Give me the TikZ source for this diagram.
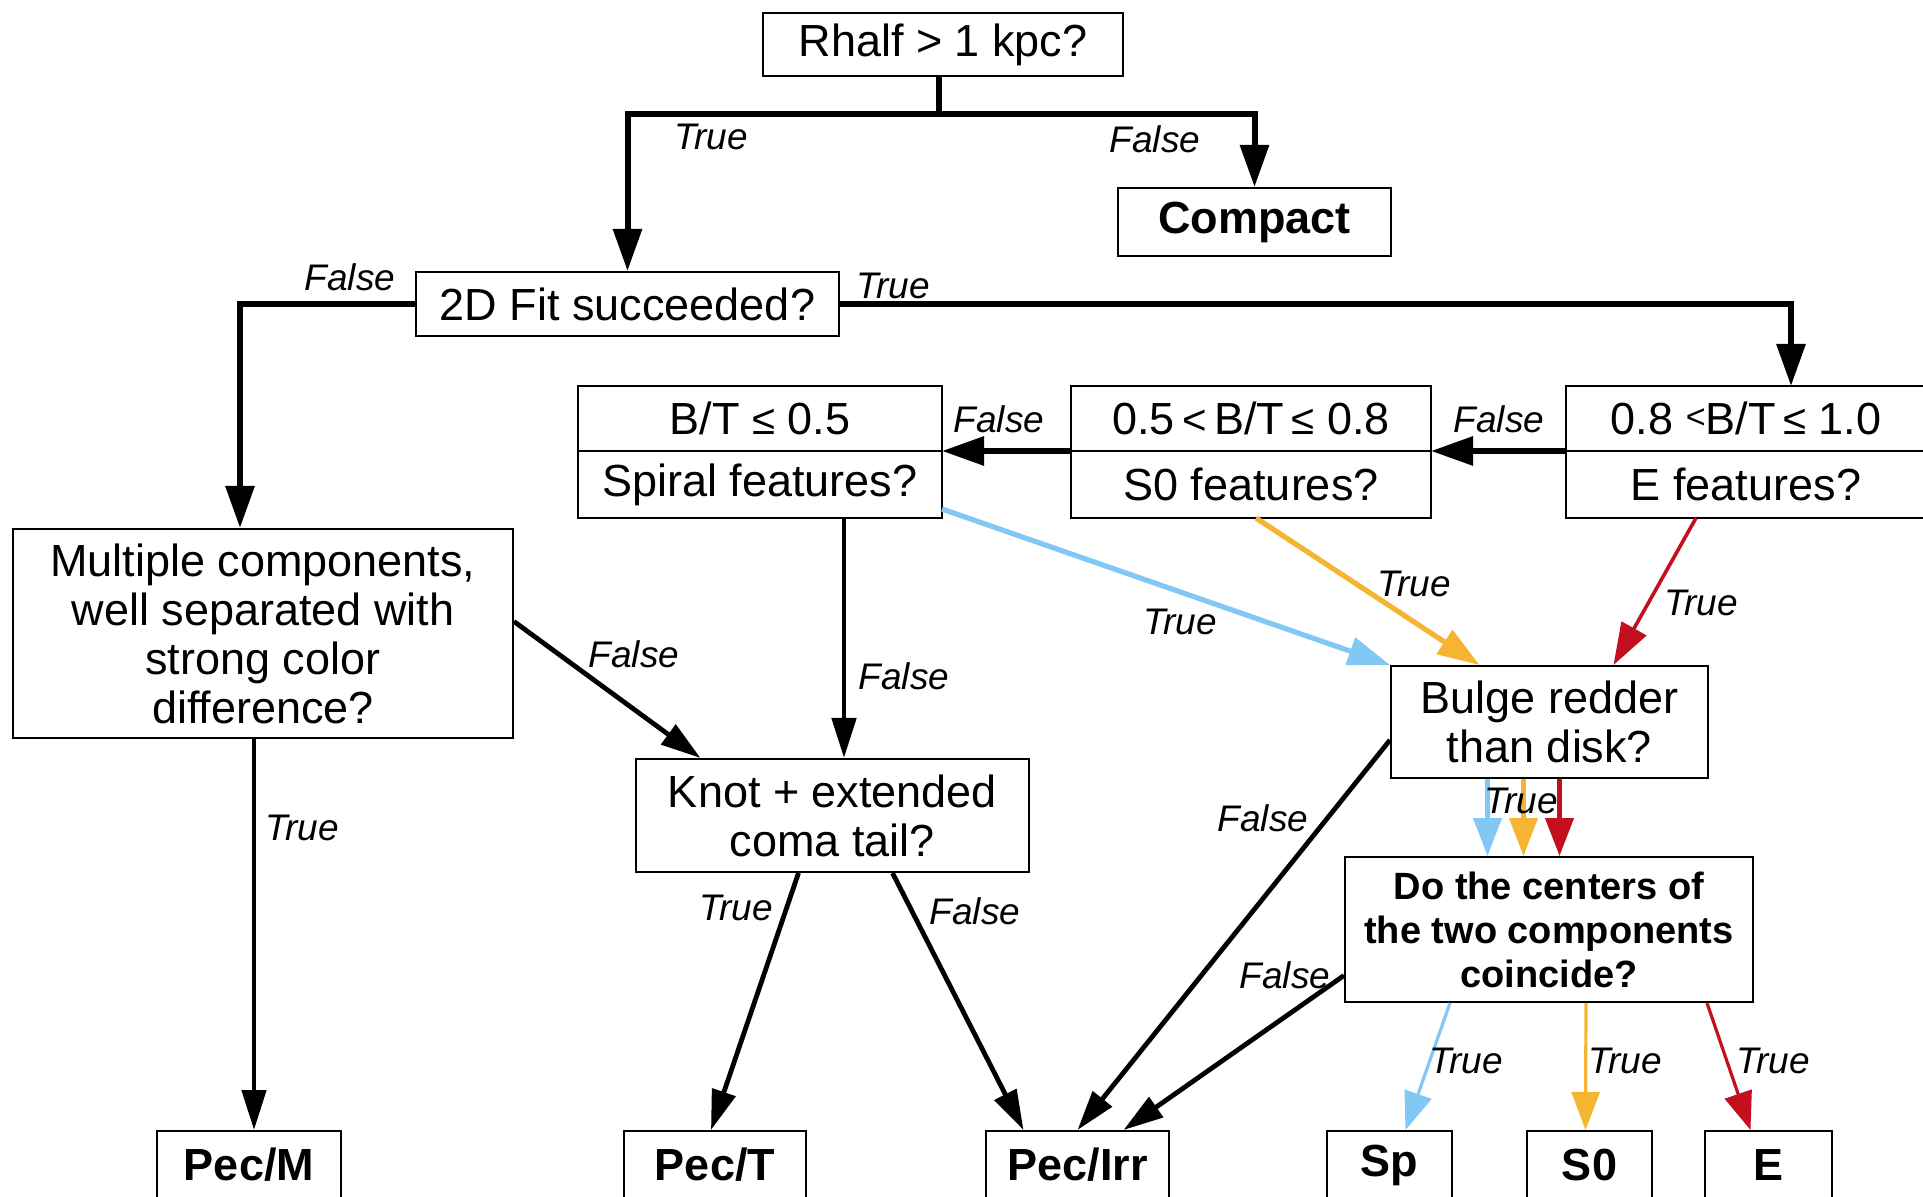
\documentclass[tikz,border=0pt]{standalone}
\usepackage{fontspec}
\setmainfont{Liberation Sans}
\usetikzlibrary{positioning,arrows.meta}

\definecolor{spblue}{RGB}{130,200,245}
\definecolor{szorange}{RGB}{245,180,50}
\definecolor{elred}{RGB}{195,15,30}

\tikzset{
  qbox/.style={draw, line width=1pt, fill=white, inner sep=0pt, align=center,
    font=\fontsize{22.5}{24.5}\selectfont},
  leaf/.style={qbox, font=\fontsize{22.5}{24.5}\selectfont\bfseries},
  lab/.style={inner sep=0pt, font=\fontsize{18.5}{20}\selectfont\itshape},
  flow/.style={line width=2.4pt, -{Triangle[length=20pt,width=12pt]}},
  bigflow/.style={line width=3pt, -{Triangle[length=21pt,width=14pt]}},
  cflow/.style={line width=2.6pt, -{Triangle[length=21pt,width=14pt]}},
  thinflow/.style={line width=1.6pt, -{Triangle[length=19pt,width=14pt]}},
}
\newcommand{\smrel}[1]{{\fontsize{21}{21}\selectfont #1}}

\begin{document}
\begin{tikzpicture}[x=0.5pt,y=-0.5pt]
\useasboundingbox (0,0) rectangle (1923,1197);

% questions
\node[qbox, minimum width=180pt, minimum height=31.5pt] (rhalf) at (943,44.5) {Rhalf > 1 kpc?};
\node[leaf, minimum width=136.5pt, minimum height=34pt] (compact) at (1254.5,222) {Compact};
\node[qbox, minimum width=211.5pt, minimum height=32pt] (fit) at (627.5,304) {2D Fit succeeded?};

% B/T boxes
\node[qbox, minimum width=182pt, minimum height=32.5pt, outer sep=0pt] (bt05) at (760,418.5) {B/T \smrel{≤} 0.5};
\node[qbox, minimum width=182pt, minimum height=33.5pt, outer sep=0pt, below=0pt of bt05] (spiral) {Spiral features?};
\node[qbox, minimum width=180pt, minimum height=32.5pt, outer sep=0pt] (bt08) at (1251,418.5) {0.5\,\smrel{<}\,B/T\,\smrel{≤} 0.8};
\node[qbox, minimum width=180pt, minimum height=33.5pt, outer sep=0pt, below=0pt of bt08] (s0feat) {S0 features?};
\node[qbox, minimum width=180pt, minimum height=32.5pt, outer sep=0pt] (bt10) at (1746,418.5) {0.8 \raisebox{3pt}{{\fontsize{17}{17}\selectfont<}}B/T\,\smrel{≤} 1.0};
\node[qbox, minimum width=180pt, minimum height=33.5pt, outer sep=0pt, below=0pt of bt10] (efeat) {E features?};

\node[qbox, minimum width=250pt, minimum height=104.5pt] (multi) at (263,633.5) {Multiple components,\\ well separated with\\ strong color\\ difference?};
\node[qbox, minimum width=196.5pt, minimum height=56.5pt] (knot) at (832.5,815.5) {Knot + extended\\ coma tail?};
\node[qbox, minimum width=158.5pt, minimum height=56pt] (bulge) at (1549.5,722) {Bulge redder\\ than disk?};
\node[qbox, minimum width=204pt, minimum height=72.5pt, font=\fontsize{19}{22}\selectfont\bfseries] (centers) at (1549,929.5) {Do the centers of\\ the two components\\ coincide?};

% classes
\node[leaf, minimum width=92pt, minimum height=34pt] (pecm) at (249,1165) {Pec/M};
\node[leaf, minimum width=91pt, minimum height=34pt] (pect) at (715,1165) {Pec/T};
\node[leaf, minimum width=91.5pt, minimum height=34pt] (pecirr) at (1077.5,1165) {Pec/Irr};
\node[leaf, minimum width=62.5pt, minimum height=34pt] (sp) at (1389.5,1165) {Sp};
\node[leaf, minimum width=62.5pt, minimum height=34pt] (szero) at (1589.5,1165) {S0};
\node[leaf, minimum width=63.5pt, minimum height=34pt] (ell) at (1768.5,1165) {E};

% black connectors
\coordinate (topsplit) at (939,114);
\draw[bigflow] (rhalf.south -| topsplit) -- (topsplit) -| (fit.north);
\draw[bigflow] (topsplit) -| (compact.north);
\draw[bigflow] (fit.west) -| ([xshift=-11.5pt]multi.north);
\draw[bigflow] (fit.east) -| ([xshift=22.5pt]bt10.north);
\draw[bigflow] (bt10.south west) -- (bt08.south east);
\draw[bigflow] (bt08.south west) -- (bt05.south east);
\draw[flow] ([xshift=42pt]spiral.south) -- ([xshift=42pt]spiral.south |- knot.north);
\draw[flow] ([yshift=6pt]multi.east) -- ([xshift=-66pt]knot.north);
\draw[flow] ([xshift=-4.5pt]multi.south) -- ([xshift=-4.5pt]multi.south |- pecm.north);
\draw[flow] ([xshift=-17pt]knot.south) -- ([xshift=-2pt]pect.north);
\draw[flow] ([xshift=30pt]knot.south) -- ([xshift=-27pt]pecirr.north);
\draw[flow] ([yshift=-9pt]bulge.west) -- (pecirr.north);
\draw[flow] ([yshift=-23pt]centers.west) -- ([xshift=23pt]pecirr.north);

% coloured connectors
\draw[cflow, spblue] ([yshift=4.5pt]spiral.south east) -- (bulge.north west);
\draw[cflow, szorange] ([xshift=2.5pt]s0feat.south) -- ([xshift=-35pt]bulge.north);
\draw[cflow, elred, line width=1.8pt] ([xshift=-25pt]efeat.south) -- ([xshift=32pt]bulge.north);
\foreach \dx/\col in {-31/spblue, -13/szorange, 5/elred}
  \draw[thinflow, \col, line width=2.2pt] ([xshift=\dx pt]bulge.south) -- ([xshift=\dx pt]bulge.south |- centers.north);
\draw[thinflow, spblue] ([xshift=-49.5pt]centers.south) -- ([xshift=8pt]sp.north);
\draw[thinflow, szorange] ([xshift=18.5pt]centers.south) -- ([xshift=-2pt]szero.north);
\draw[thinflow, elred] ([xshift=79pt]centers.south) -- ([xshift=-9pt]ell.north);

% labels
\node[lab] (l1) at (711,137) {True};
\node[lab] (l2) at (1155,139) {False};
\node[lab] (l3) at (350,277) {False};
\node[lab] (l4) at (893,286) {True};
\node[lab] (l5) at (1499,419) {False};
\node[lab] (l6) at (999,419) {False};
\node[lab] (l7) at (904,676) {False};
\node[lab] (l8) at (634,654) {False};
\node[lab] (l9) at (302,828) {True};
\node[lab] (l10) at (736,908) {True};
\node[lab] (l11) at (975,911) {False};
\node[lab] (l12) at (1263,818) {False};
\node[lab] (l13) at (1285,975) {False};
\node[lab] (l14) at (1180,622) {True};
\node[lab] (l15) at (1414,584) {True};
\node[lab] (l16) at (1701,603) {True};
\node[lab] (l17) at (1521,801) {True};
\node[lab] (l18) at (1466,1061) {True};
\node[lab] (l19) at (1625,1061) {True};
\node[lab] (l20) at (1773,1061) {True};
\end{tikzpicture}
\end{document}
